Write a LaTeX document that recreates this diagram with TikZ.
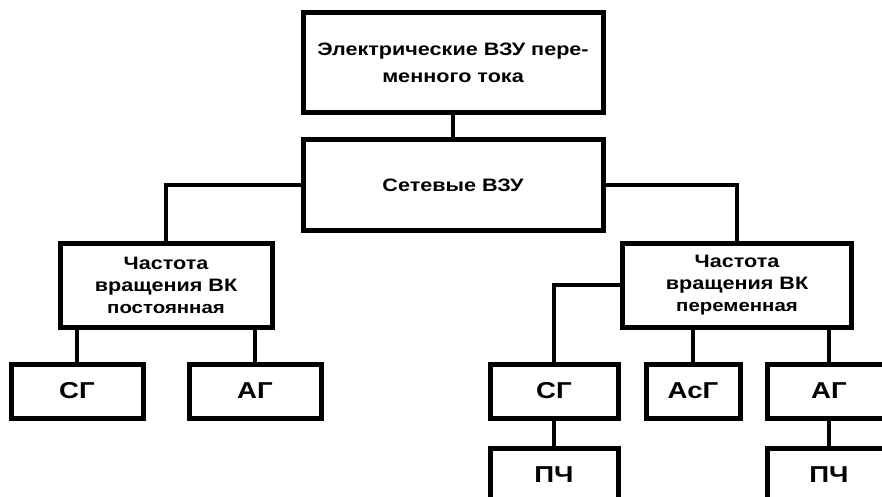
\documentclass[tikz,border=0pt]{standalone}
\usepackage{fontspec}
\setmainfont{Liberation Sans}
\newfontfamily\boxfont[FakeStretch=1.2]{Liberation Sans}
\usetikzlibrary{positioning,calc}

\tikzset{
  block/.style={draw, rectangle, line width=5pt, align=center, inner sep=2pt,
    font=\boxfont\bfseries\fontsize{18}{22}\selectfont},
  leaf/.style={block, minimum height=54pt, font=\boxfont\bfseries\fontsize{23}{26}\selectfont},
  link/.style={line width=4pt}
}

\begin{document}
\begin{tikzpicture}[x=1pt, y=-1pt]
				\useasboundingbox (0,0) rectangle (882,497);
				\clip (0,0) rectangle (882,497);
				\fill[white] (0,0) rectangle (882,497);
				
				\node[block, minimum width=300pt, minimum height=100pt, font=\boxfont\bfseries\fontsize{18}{27}\selectfont] (evzu) at (453,63) {Электрические ВЗУ пере-\\менного тока};
				\node[block, minimum width=300pt, minimum height=90pt] (setevye) at (453,185) {Сетевые ВЗУ};
				\node[block, minimum width=212pt, minimum height=84pt] (postoyan) at (166,285) {Частота\\вращения ВК\\{\fontsize{17}{19}\selectfont постоянная}};
				\node[block, minimum width=229pt, minimum height=84pt] (peremen) at (737,285) {Частота\\вращения ВК\\{\fontsize{17}{19}\selectfont переменная}};
				
				\node[leaf, minimum width=132pt] (sg1) at (77,391) {СГ};
				\node[leaf, minimum width=132pt] (ag1) at (255,391) {АГ};
				\node[leaf, minimum width=128pt] (sg2) at (554,391) {СГ};
				\node[leaf, minimum width=94pt] (asg) at (693,391) {АсГ};
				\node[leaf, minimum width=124pt] (ag2) at (829,391) {АГ};
				\node[leaf, minimum width=128pt] (pch1) at (554,475) {ПЧ};
				\node[leaf, minimum width=124pt] (pch2) at (829,475) {ПЧ};
				
				\draw[link] (evzu) -- (setevye);
				\draw[link] (setevye.west) -| (postoyan.north);
				\draw[link] (setevye.east) -| (peremen.north);
				\draw[link] (postoyan.south -| sg1.north) -- (sg1.north);
				\draw[link] (postoyan.south -| ag1.north) -- (ag1.north);
				\draw[link] (peremen.west) -| (sg2.north);
				\draw[link] (peremen.south -| asg.north) -- (asg.north);
				\draw[link] (peremen.south -| ag2.north) -- (ag2.north);
				\draw[link] (sg2) -- (pch1);
				\draw[link] (ag2) -- (pch2);
			\end{tikzpicture}
\end{document}
